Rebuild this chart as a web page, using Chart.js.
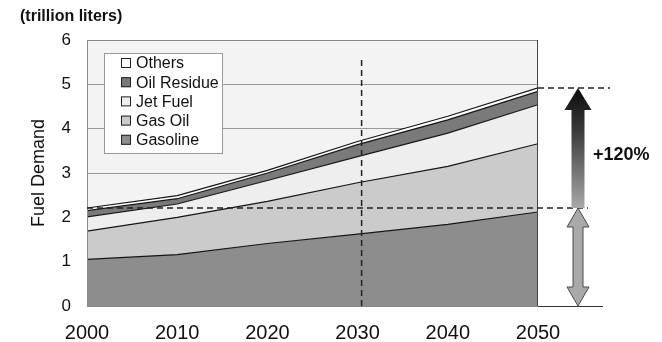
<!DOCTYPE html>
<html>
<head>
<meta charset="utf-8">
<script src="https://cdn.jsdelivr.net/npm/chart.js@4"></script>
<style>
  html, body { margin: 0; padding: 0; background: #fff; }
  canvas { display: block; }
</style>
</head>
<body>
<canvas id="chart" width="662" height="342"></canvas>
<script>
// values (trillion liters, stacked bottom to top)
const years = [2000, 2010, 2020, 2030, 2040, 2050];
const gasoline = [1.05, 1.16, 1.41, 1.62, 1.84, 2.12];
const gasOil = [0.64, 0.84, 0.95, 1.16, 1.31, 1.54];
const jetFuel = [0.32, 0.30, 0.47, 0.59, 0.75, 0.88];
const oilResidue = [0.14, 0.12, 0.17, 0.27, 0.30, 0.30];
const others = [0.06, 0.07, 0.06, 0.07, 0.08, 0.08];

const seriesNames = ["Gasoline", "Gas Oil", "Jet Fuel", "Oil Residue", "Others"];
const yTicks = [0, 1, 2, 3, 4, 5, 6];

const baseLevel = 2.21;   // 2000 total
const peakLevel = 4.92;   // 2050 total
const markerYear = 2030;
const growthLabel = "+120%";

const fills = {
  "Gasoline": "#8d8d8d",
  "Gas Oil": "#cbcbcb",
  "Jet Fuel": "#eeeeee",
  "Oil Residue": "#7a7a7a",
  "Others": "#ffffff",
};

const font = "'Liberation Sans', Arial, sans-serif";

function toPoints(values) {
  return values.map((value, index) => ({ x: years[index], y: value }));
}

const seriesValues = [gasoline, gasOil, jetFuel, oilResidue, others];
const datasets = seriesNames.map((name, index) => ({
  label: name,
  data: toPoints(seriesValues[index]),
  backgroundColor: fills[name],
  borderColor: "#151515",
  borderWidth: 1.2,
  pointRadius: 0,
  tension: 0,
  fill: index === 0 ? "origin" : "-1",
}));

function dashed(ctx, x1, y1, x2, y2) {
  ctx.save();
  ctx.setLineDash([6, 4]);
  ctx.strokeStyle = "#222";
  ctx.lineWidth = 1.5;
  ctx.beginPath();
  ctx.moveTo(x1, y1);
  ctx.lineTo(x2, y2);
  ctx.stroke();
  ctx.restore();
}

const overlay = {
  id: "overlay",
  beforeDraw(chart) {
    const { ctx, chartArea: a } = chart;
    ctx.save();
    ctx.fillStyle = "#f3f3f3";
    ctx.fillRect(a.left, a.top, a.width, a.height);
    ctx.restore();
  },
  afterDraw(chart) {
    const { ctx, chartArea: a, scales: { x, y } } = chart;

    // plot frame
    ctx.save();
    ctx.strokeStyle = "#8a8a8a";
    ctx.lineWidth = 1;
    ctx.strokeRect(a.left + 0.5, a.top + 0.5, a.width - 1, a.height);
    ctx.strokeStyle = "#444";
    ctx.beginPath();
    ctx.moveTo(a.right - 0.5, a.top);
    ctx.lineTo(a.right - 0.5, a.bottom);
    ctx.stroke();
    // baseline extension under the arrows
    ctx.strokeStyle = "#333";
    ctx.beginPath();
    ctx.moveTo(a.right, a.bottom + 0.5);
    ctx.lineTo(a.right + 65, a.bottom + 0.5);
    ctx.stroke();
    ctx.restore();

    const yBase = y.getPixelForValue(baseLevel);
    const yPeak = y.getPixelForValue(peakLevel);
    const yZero = y.getPixelForValue(0);
    dashed(ctx, x.getPixelForValue(2000), yBase, a.right + 50, yBase);
    dashed(ctx, a.right, yPeak, a.right + 72, yPeak);
    const xm = x.getPixelForValue(markerYear) + 4;
    dashed(ctx, xm, y.getPixelForValue(5.55), xm, a.bottom);

    const cx = a.right + 40;

    // growth arrow
    ctx.save();
    const grad = ctx.createLinearGradient(0, yPeak, 0, yBase);
    grad.addColorStop(0, "#0a0a0a");
    grad.addColorStop(0.35, "#3a3a3a");
    grad.addColorStop(1, "#a8a8a8");
    ctx.fillStyle = grad;
    ctx.beginPath();
    ctx.moveTo(cx, yPeak);
    ctx.lineTo(cx + 13.5, yPeak + 22);
    ctx.lineTo(cx + 6.5, yPeak + 22);
    ctx.lineTo(cx + 6.5, yBase);
    ctx.lineTo(cx - 6.5, yBase);
    ctx.lineTo(cx - 6.5, yPeak + 22);
    ctx.lineTo(cx - 13.5, yPeak + 22);
    ctx.closePath();
    ctx.fill();
    ctx.restore();

    // two-headed base arrow
    ctx.save();
    const hh = 19, hw = 11, sw = 5;
    ctx.fillStyle = "#a9a9a9";
    ctx.strokeStyle = "#4a4a4a";
    ctx.lineWidth = 1;
    ctx.beginPath();
    ctx.moveTo(cx, yBase);
    ctx.lineTo(cx + hw, yBase + hh);
    ctx.lineTo(cx + sw, yBase + hh);
    ctx.lineTo(cx + sw, yZero - hh);
    ctx.lineTo(cx + hw, yZero - hh);
    ctx.lineTo(cx, yZero);
    ctx.lineTo(cx - hw, yZero - hh);
    ctx.lineTo(cx - sw, yZero - hh);
    ctx.lineTo(cx - sw, yBase + hh);
    ctx.lineTo(cx - hw, yBase + hh);
    ctx.closePath();
    ctx.fill();
    ctx.stroke();
    ctx.restore();

    ctx.save();
    ctx.fillStyle = "#111";
    ctx.textBaseline = "middle";
    ctx.font = `bold 18px ${font}`;
    ctx.fillText(growthLabel, a.right + 55, 155);
    ctx.font = `bold 16px ${font}`;
    ctx.fillText("(trillion liters)", 20, 17);
    ctx.restore();

    // legend box inside the plot
    ctx.save();
    const lx = 104, ly = 53, lw = 118, lh = 100;
    ctx.fillStyle = "#fff";
    ctx.fillRect(lx, ly, lw, lh);
    ctx.strokeStyle = "#999";
    ctx.strokeRect(lx + 0.5, ly + 0.5, lw, lh);
    ctx.font = `16px ${font}`;
    ctx.textBaseline = "middle";
    seriesNames.slice().reverse().forEach((name, index) => {
      const cy = 63 + index * 19.2;
      ctx.fillStyle = fills[name];
      ctx.fillRect(121, cy - 5, 10, 10);
      ctx.strokeStyle = "#222";
      ctx.strokeRect(121.5, cy - 4.5, 9, 9);
      ctx.fillStyle = "#111";
      ctx.fillText(name, 136, cy + 1);
    });
    ctx.restore();
  },
};

new Chart(document.querySelector("#chart"), {
  type: "line",
  data: { datasets },
  plugins: [overlay],
  options: {
    responsive: false,
    animation: false,
    devicePixelRatio: 1,
    layout: { padding: { top: 40, right: 124, left: 28, bottom: 0 } },
    plugins: { legend: { display: false }, tooltip: { enabled: false } },
    scales: {
      x: {
        type: "linear",
        min: 2000,
        max: 2050,
        afterFit: (scale) => { scale.height = 36; },
        grid: { display: false },
        border: { display: true, color: "#222", width: 1 },
        ticks: {
          stepSize: 10,
          padding: 7,
          maxRotation: 0,
          color: "#111",
          font: { family: font, size: 20 },
          callback: (value) => String(value),
        },
      },
      y: {
        stacked: true,
        min: 0,
        max: 6,
        afterFit: (scale) => { scale.width = 59; },
        afterBuildTicks: (scale) => { scale.ticks = yTicks.map((value) => ({ value })); },
        grid: { color: "#9a9a9a", lineWidth: 1, drawTicks: false },
        border: { display: true, color: "#222", width: 1 },
        ticks: {
          padding: 16,
          color: "#111",
          font: { family: font, size: 17 },
        },
        title: {
          display: true,
          text: "Fuel Demand",
          color: "#111",
          padding: 0,
          font: { family: font, size: 18 },
        },
      },
    },
  },
});
</script>
</body>
</html>
